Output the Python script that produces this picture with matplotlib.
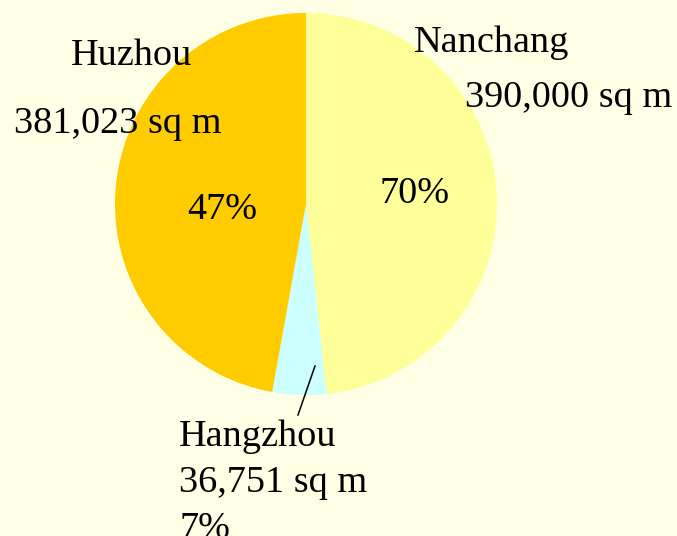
import matplotlib
matplotlib.use("Agg")
import matplotlib.pyplot as plt

# Data
cities = ["Nanchang", "Hangzhou", "Huzhou"]
areas = [390000, 36751, 381023]
area_labels = ["390,000 sq m", "36,751 sq m", "381,023 sq m"]
pct_labels = ["70%", "7%", "47%"]
colors = ["#FFFF99", "#CCFFFF", "#FFCC00"]

BG = "#FFFFE6"
W, H = 677, 536
CX, CY, R = 306, 204, 191  # pie centre / radius in pixels

fig = plt.figure(figsize=(W / 100, H / 100), dpi=100, facecolor=BG)
ax = fig.add_axes([0, 0, 1, 1])
ax.set_facecolor(BG)
ax.pie(areas, colors=colors, startangle=90, counterclock=False, radius=1,
       wedgeprops=dict(linewidth=0))
ax.set_xlim(-CX / R, (W - CX) / R)
ax.set_ylim(-(H - CY) / R, CY / R)
ax.set_aspect("equal")
ax.axis("off")


def px(x, y):
    return ((x - CX) / R, (CY - y) / R)


font = dict(family="Liberation Serif", size=27.5, color="black")

# Nanchang
ax.text(*px(492, 52), cities[0], ha="center", va="baseline", **font)
ax.text(*px(672, 107), area_labels[0], ha="right", va="baseline", **font)
ax.text(*px(414, 203), pct_labels[0], ha="center", va="baseline", **font)

# Huzhou
ax.text(*px(131, 65), cities[2], ha="center", va="baseline", **font)
ax.text(*px(14, 133), area_labels[2], ha="left", va="baseline", **font)
ax.text(*px(222, 219), pct_labels[2], ha="center", va="baseline", **font)

# Hangzhou (outside, with leader line)
x0, y0 = px(315, 366)
x1, y1 = px(298, 415)
ax.plot([x0, x1], [y0, y1], color="black", lw=1.1)
ax.text(*px(179, 446), cities[1], ha="left", va="baseline", **font)
ax.text(*px(179, 492), area_labels[1], ha="left", va="baseline", **font)
ax.text(*px(179, 538), pct_labels[1], ha="left", va="baseline", **font)

fig.savefig("out.png", dpi=100, facecolor=BG)
